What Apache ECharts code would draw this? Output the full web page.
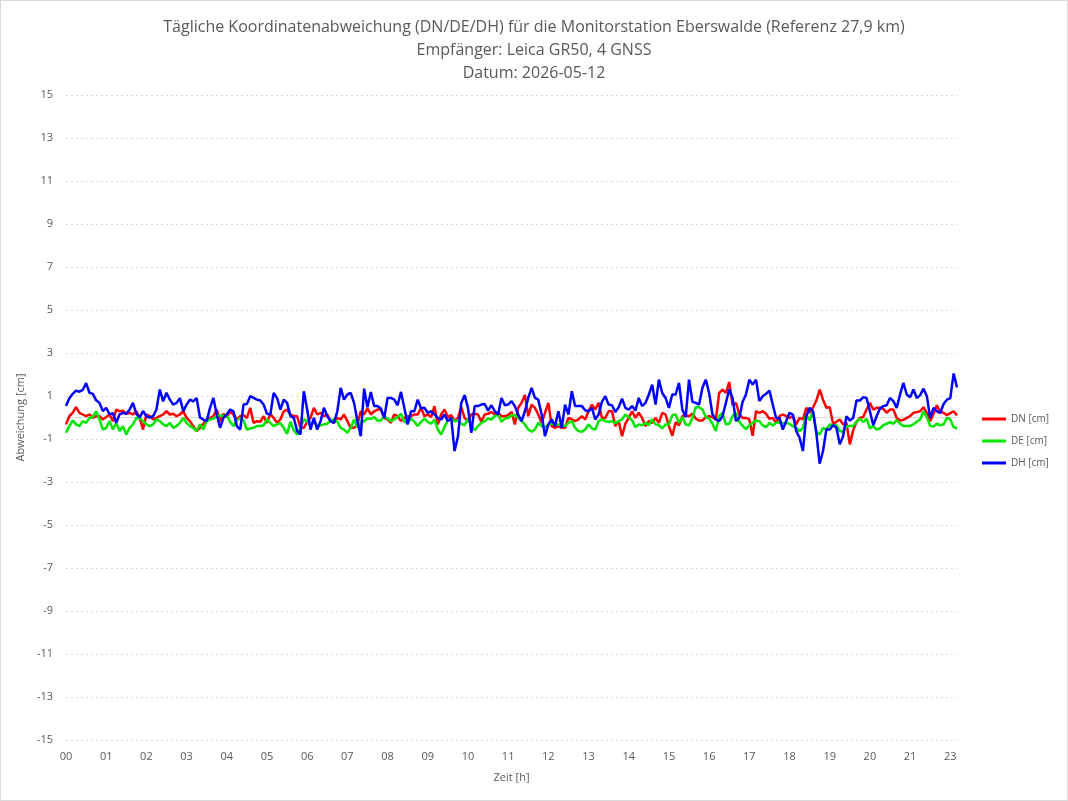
<!DOCTYPE html>
<html>
<head>
<meta charset="utf-8">
<title>Koordinatenabweichung Eberswalde</title>
<script src="https://cdn.jsdelivr.net/npm/echarts@6/dist/echarts.min.js"></script>
<style>
  html, body { margin: 0; padding: 0; background: #fff; }
  #chart { width: 1068px; height: 801px; box-sizing: border-box; border: 1px solid #d9d9d9; }
</style>
</head>
<body>
<div id="chart"></div>
<script>
  // Stunden mit Messwerten (Stunde 22 fehlt), 5-Minuten-Takt
  const hourLabels = ['00','01','02','03','04','05','06','07','08','09','10','11',
    '12','13','14','15','16','17','18','19','20','21','23'];
  const minuteLabels = ['00','05','10','15','20','25','30','35','40','45','50','55'];
  const lastHourMinutes = ['00','05','10'];

  const yTicks = [-15, -13, -11, -9, -7, -5, -3, -1, 1, 3, 5, 7, 9, 11, 13, 15];

  const dn = [
    -0.32, 0.06, 0.22, 0.48, 0.22, 0.14, 0.06, 0.14, -0.02, 0.06, 0.06, -0.09, 0.02, 0.14, -0.17, 0.37, 0.29, 0.32, 0.17, 0.22, 0.14, 0.29, -0.02, -0.56, 0.14, 0.06, -0.09, -0.02, 0.06, 0.14, 0.29, 0.14, 0.17, 0.06, 0.14, 0.29, -0.02, -0.17, -0.40, -0.63, -0.48, -0.29, -0.09, -0.02,
    0.06, 0.37, -0.17, 0.17, 0.02, 0.29, 0.14, -0.09, 0.06, 0.11, -0.02, 0.45, -0.25, -0.17, -0.20, 0.06, -0.25, 0.17, -0.02, -0.25, -0.09, 0.29, 0.37, 0.14, 0.06, 0.06, -0.48, -0.48, -0.20, -0.02, 0.45, 0.14, 0.22, 0.06, 0.14, -0.17, -0.25, -0.02, -0.09, 0.14, -0.17, -0.48, -0.48, -0.32, 0.29,
    0.14, 0.42, 0.14, 0.29, 0.37, 0.37, -0.02, -0.09, -0.25, 0.14, 0.06, -0.17, -0.02, 0.06, 0.06, 0.14, 0.14, 0.45, 0.06, 0.14, 0.02, 0.53, -0.32, 0.14, 0.37, 0.02, 0.11, -0.17, -0.02, 0.48, -0.02, -0.17, 0.14, 0.17, 0.14, -0.20, 0.14, 0.17, 0.26, 0.14, 0.22, 0.06, 0.06, 0.11, 0.26,
    -0.32, 0.45, 0.68, 1.05, 0.06, 0.60, 0.45, 0.14, -0.25, 0.22, 0.68, -0.40, -0.48, -0.40, -0.48, -0.48, -0.02, -0.09, -0.17, -0.09, 0.06, -0.09, 0.29, 0.60, 0.37, 0.68, -0.02, -0.02, 0.29, 0.29, -0.40, -0.17, -0.87, -0.29, -0.02, 0.29, -0.02, 0.22, -0.02, -0.40, -0.17, -0.25, -0.02, -0.25, 0.22,
    0.14, -0.40, -0.85, -0.22, -0.36, 0.06, 0.11, 0.06, 0.17, -0.05, -0.14, -0.14, 0.02, 0.06, 0.02, -0.09, 1.14, 1.30, 1.14, 1.65, 0.57, 0.68, 0.17, -0.02, -0.02, -0.09, -0.85, 0.29, 0.22, 0.29, 0.17, -0.06, -0.02, -0.25, 0.06, 0.14, 0.06, -0.02, 0.06, -0.32, -0.02, -0.09, 0.45, 0.22, 0.45,
    0.79, 1.30, 0.83, 0.45, 0.48, -0.29, -0.20, -0.09, -0.32, -0.25, -1.25, -0.60, -0.20, -0.02, 0.02, 0.37, 0.68, 0.37, 0.45, 0.45, 0.40, 0.22, 0.37, 0.37, -0.02, -0.14, -0.11, -0.02, 0.06, 0.22, 0.25, 0.29, 0.48, 0.22, -0.17, 0.17, 0.57, 0.25, 0.22, 0.11, 0.20, 0.29, 0.10
  ];

  const de = [
    -0.71, -0.40, -0.14, -0.32, -0.40, -0.17, -0.25, -0.02, 0.02, 0.29, -0.09, -0.56, -0.48, -0.17, -0.56, -0.25, -0.63, -0.40, -0.79, -0.48, -0.32, -0.02, -0.02, -0.17, -0.32, -0.40, -0.32, -0.09, -0.17, -0.32, -0.40, -0.25, -0.48, -0.40, -0.25, -0.02, -0.25, -0.40, -0.48, -0.63, -0.32, -0.56, -0.17, -0.09,
    -0.05, 0.06, 0.11, 0.06, 0.11, -0.20, -0.40, -0.14, -0.02, -0.14, -0.56, -0.51, -0.48, -0.40, -0.40, -0.37, -0.09, -0.25, -0.40, -0.32, -0.26, -0.48, -0.76, -0.20, -0.60, -0.79, -0.48, -0.09, -0.17, -0.40, -0.20, -0.37, -0.36, -0.32, -0.29, -0.14, -0.09, -0.20, -0.48, -0.56, -0.71, -0.48, -0.09, -0.45, -0.25,
    -0.17, -0.05, -0.06, 0.02, -0.14, -0.14, 0.05, -0.05, -0.17, -0.09, 0.02, 0.17, -0.20, -0.25, -0.05, -0.20, -0.40, -0.20, -0.05, -0.20, -0.29, -0.09, -0.56, -0.79, -0.45, -0.14, -0.05, -0.17, -0.14, -0.29, -0.36, -0.05, -0.36, -0.60, -0.40, -0.25, -0.17, -0.05, -0.09, 0.06, 0.14, -0.20, -0.05, -0.02, 0.11,
    0.11, -0.02, -0.17, -0.32, -0.56, -0.66, -0.56, -0.25, -0.40, -0.45, -0.32, -0.29, -0.32, -0.32, -0.36, -0.40, -0.25, -0.17, -0.48, -0.63, -0.66, -0.56, -0.32, -0.51, -0.56, -0.17, -0.09, -0.17, -0.20, -0.17, -0.26, -0.17, -0.09, 0.14, 0.02, -0.14, -0.45, -0.32, -0.36, -0.25, -0.36, -0.09, -0.32, -0.36, -0.51,
    -0.32, -0.32, 0.11, 0.14, -0.25, 0.02, -0.32, -0.37, -0.02, 0.48, 0.48, 0.37, 0.02, -0.05, -0.29, -0.63, 0.06, 0.22, -0.32, -0.29, 0.06, 0.22, -0.20, -0.39, -0.54, -0.36, -0.25, -0.14, -0.17, -0.37, -0.45, -0.25, -0.37, -0.25, -0.22, -0.27, -0.24, -0.30, -0.40, -0.48, -0.63, -0.48, 0.14, -0.14, 0.29,
    -0.66, -0.79, -0.48, -0.56, -0.32, -0.36, -0.36, -0.63, -0.66, -0.42, -0.39, -0.39, -0.20, -0.05, -0.22, -0.05, -0.51, -0.40, -0.56, -0.51, -0.36, -0.29, -0.22, -0.29, -0.12, -0.29, -0.40, -0.40, -0.39, -0.32, -0.20, -0.09, 0.29, 0.02, -0.39, -0.42, -0.29, -0.36, -0.32, -0.02, -0.09, -0.45, -0.51
  ];

  const dh = [
    0.53, 0.90, 1.10, 1.25, 1.20, 1.28, 1.60, 1.15, 1.10, 0.80, 0.68, 0.30, 0.45, 0.15, 0.20, -0.25, 0.15, 0.22, 0.17, 0.37, 0.68, 0.17, 0.00, 0.30, 0.06, 0.00, 0.06, 0.37, 1.30, 0.75, 1.15, 0.83, 0.60, 0.68, 0.90, 0.30, 0.60, 0.83, 0.75, 0.90, 0.00, -0.10, -0.17, 0.45,
    0.91, 0.14, -0.48, -0.02, 0.14, 0.37, 0.29, -0.40, -0.56, 0.60, 0.63, 0.99, 0.91, 0.83, 0.79, 0.60, 0.17, 0.14, 1.14, 0.91, 0.37, 0.83, 0.68, 0.06, -0.02, -0.63, -0.79, 1.22, 0.37, -0.56, -0.02, -0.56, -0.17, 0.45, 0.06, -0.17, -0.25, 0.29, 1.38, 0.83, 1.07, 1.14, 0.68, -0.17, -0.87,
    1.34, 0.48, 1.19, 0.53, 0.53, 0.42, -0.02, 0.91, 0.91, 0.83, 0.57, 1.19, 0.45, -0.32, 0.29, 0.29, 0.83, 0.42, 0.45, 0.22, 0.29, 0.14, -0.02, -0.09, 0.14, -0.17, -0.02, -1.56, -0.90, 0.68, 1.04, 0.45, -0.71, 0.53, 0.53, 0.60, 0.63, 0.32, 0.57, 0.29, 0.14, 0.91, 0.57, 0.60, 0.76,
    0.53, 0.14, -0.17, 0.29, 0.91, 1.38, 0.91, 0.83, 0.14, -0.87, -0.32, -0.09, -0.40, 0.29, -0.48, 0.60, 0.14, 1.22, 0.53, 0.53, 0.53, 0.34, 0.29, 0.45, -0.09, 0.14, 0.73, 0.99, 0.60, 0.57, 0.26, 0.48, 0.88, 0.45, 0.37, 0.53, 0.32, 0.91, 0.53, 0.68, 1.07, 1.53, 0.60, 1.76, 1.14,
    0.91, 0.45, 1.07, 1.07, 1.61, 0.37, 0.02, 1.76, 0.73, 0.68, 0.60, 1.38, 1.76, 1.14, 0.14, -0.09, -0.17, 0.06, 0.68, 1.30, 0.91, -0.17, -0.02, 0.73, 1.07, 1.76, 1.53, 1.76, 0.76, 0.99, 1.10, 1.25, 0.60, -0.02, -0.02, -0.56, -0.17, 0.22, 0.14, -0.63, -0.94, -1.56, 0.06, 0.45, 0.30,
    -0.71, -2.15, -1.56, -0.56, -0.56, -0.36, -0.48, -1.25, -0.87, 0.06, -0.14, -0.02, 0.79, 0.79, 0.94, 0.91, 0.29, -0.36, 0.06, 0.42, 0.53, 0.57, 0.91, 0.76, 0.45, 1.07, 1.61, 1.07, 0.94, 1.30, 0.91, 1.04, 1.34, 0.99, -0.02, 0.45, 0.29, 0.22, 0.63, 0.83, 0.90, 2.05, 1.40
  ];

  // Zeitstempel aus den Stunden und Minuten
  const times = [];
  hourLabels.forEach(function (h) {
    const mins = h === '23' ? lastHourMinutes : minuteLabels;
    mins.forEach(function (m) { times.push(h + ':' + m); });
  });

  const textColor = '#595959';
  const fontFamily = '"Open Sans", "Noto Sans", sans-serif';

  const myChart = echarts.init(document.getElementById('chart'));

  const option = {
    animation: false,
    backgroundColor: '#ffffff',
    textStyle: { fontFamily: fontFamily, color: textColor },
    title: {
      text: 'Tägliche Koordinatenabweichung (DN/DE/DH) für die Monitorstation Eberswalde (Referenz 27,9 km)\nEmpfänger: Leica GR50, 4 GNSS\nDatum: 2026-05-12',
      left: 'center',
      top: 10,
      textStyle: {
        fontFamily: fontFamily,
        fontSize: 16,
        fontWeight: 'normal',
        color: textColor,
        lineHeight: 23,
      },
    },
    legend: {
      orient: 'vertical',
      right: 13,
      top: 406,
      icon: 'rect',
      itemWidth: 24,
      itemHeight: 3,
      itemGap: 8,
      textStyle: { fontSize: 10, lineHeight: 14, color: textColor, fontFamily: fontFamily },
      data: ['DN [cm]', 'DE [cm]', 'DH [cm]'],
    },
    grid: {
      left: 65,
      right: 110,
      top: 94,
      bottom: 60,
    },
    xAxis: [
      {
        type: 'category',
        data: times,
        boundaryGap: false,
        name: 'Zeit [h]',
        nameLocation: 'middle',
        nameGap: 32,
        nameTextStyle: { fontSize: 11, color: textColor },
        axisLine: { show: false, onZero: false },
        axisTick: { show: false },
        axisLabel: {
          color: textColor,
          fontSize: 11,
          margin: 11,
          interval: function (index, value) { return value.slice(3) === '00'; },
          formatter: function (value) { return value.slice(0, 2); },
        },
        splitLine: { show: false },
      },
      {
        // nur die Nulllinie
        type: 'category',
        data: times,
        boundaryGap: false,
        axisLine: { show: true, onZero: true, lineStyle: { color: '#d9d9d9', width: 1 } },
        axisTick: { show: false },
        axisLabel: { show: false },
        splitLine: { show: false },
      },
    ],
    yAxis: {
      type: 'value',
      min: yTicks[0],
      max: yTicks[yTicks.length - 1],
      interval: 2,
      name: 'Abweichung [cm]',
      nameLocation: 'middle',
      nameGap: 38,
      nameTextStyle: { fontSize: 11, color: textColor },
      axisLine: { show: false },
      axisTick: { show: false },
      axisLabel: { color: textColor, fontSize: 11, margin: 13 },
      splitLine: {
        show: true,
        lineStyle: { color: '#d9d9d9', type: [2, 3], width: 1 },
      },
    },
    series: [
      {
        name: 'DN [cm]',
        type: 'line',
        data: dn,
        symbol: 'none',
        lineStyle: { color: '#ff0000', width: 2.5 },
        itemStyle: { color: '#ff0000' },
      },
      {
        name: 'DE [cm]',
        type: 'line',
        data: de,
        symbol: 'none',
        lineStyle: { color: '#00e600', width: 2.5 },
        itemStyle: { color: '#00e600' },
      },
      {
        name: 'DH [cm]',
        type: 'line',
        data: dh,
        symbol: 'none',
        lineStyle: { color: '#0000ff', width: 2.5 },
        itemStyle: { color: '#0000ff' },
      },
    ],
  };

  myChart.setOption(option);
</script>
</body>
</html>
